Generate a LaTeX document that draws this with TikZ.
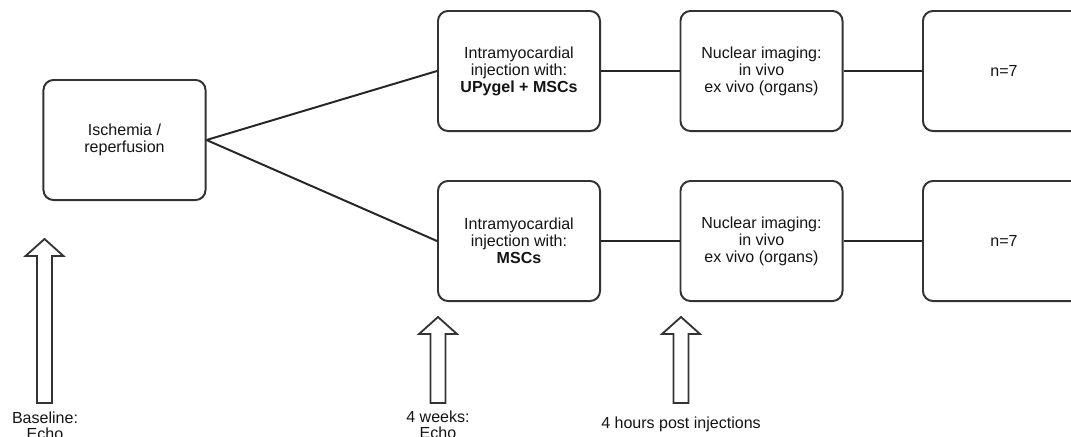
\documentclass[tikz,border=0pt]{standalone}
\usepackage{fontspec}
\setmainfont{Liberation Sans}
\usetikzlibrary{positioning}
\definecolor{boxgray}{RGB}{51,51,51}
\definecolor{textgray}{RGB}{20,20,20}

% hollow block arrow pointing up: x, tip y, foot y
\newcommand{\hollowarrow}[3]{%
  \draw[arrowline] (#1-7.5,#3) -- (#1-7.5,#2+17) -- (#1-19,#2+17) -- (#1,#2)
    -- (#1+19,#2+17) -- (#1+7.5,#2+17) -- (#1+7.5,#3) -- cycle;}

\begin{document}
\begin{tikzpicture}[x=0.025cm, y=-0.025cm,
  stage/.style={draw=boxgray, line width=1.4pt, rounded corners=0.25cm, fill=white,
    minimum width=4.05cm, minimum height=3.0cm, align=center, text=textgray,
    font=\fontsize{11.4}{12.1}\selectfont},
  link/.style={draw=black!85, line width=1.4pt},
  arrowline/.style={draw=boxgray, line width=1.3pt, fill=white},
  timelabel/.style={align=center, inner sep=0pt, text=textgray,
    font=\fontsize{11.4}{11.6}\selectfont}]
  \useasboundingbox (0,0) rectangle (1071,436);
  \clip (0,0) rectangle (1071,436);

  % Stages
  \node[stage] (isch) at (124.5,140) {Ischemia /\\reperfusion};

  \node[stage] (inj1) at (519,71) {Intramyocardial\\injection with:\\\textbf{UPygel + MSCs}};
  \node[stage] (img1) at (761.5,71) {Nuclear imaging:\\in vivo\\ex vivo (organs)};
  \node[stage] (grp1) at (1004,71) {n=7};

  \node[stage] (inj2) at (519,241) {Intramyocardial\\injection with:\\\textbf{MSCs}};
  \node[stage] (img2) at (761.5,241) {Nuclear imaging:\\in vivo\\ex vivo (organs)};
  \node[stage] (grp2) at (1004,241) {n=7};

  % Connections
  \draw[link] (isch.east) -- (inj1.west);
  \draw[link] (isch.east) -- (inj2.west);
  \draw[link] (inj1) -- (img1);
  \draw[link] (img1) -- (grp1);
  \draw[link] (inj2) -- (img2);
  \draw[link] (img2) -- (grp2);

  % Time points
  \hollowarrow{44.5}{239}{403}
  \hollowarrow{438}{317}{403}
  \hollowarrow{681}{317}{403}

  \node[timelabel] (base) at (45,426) {Baseline:\\Echo};
  \node[timelabel] (weeks) at (438,425) {4 weeks:\\Echo};
  \node[timelabel] (hours) at (681,424) {4 hours post injections};
\end{tikzpicture}
\end{document}
